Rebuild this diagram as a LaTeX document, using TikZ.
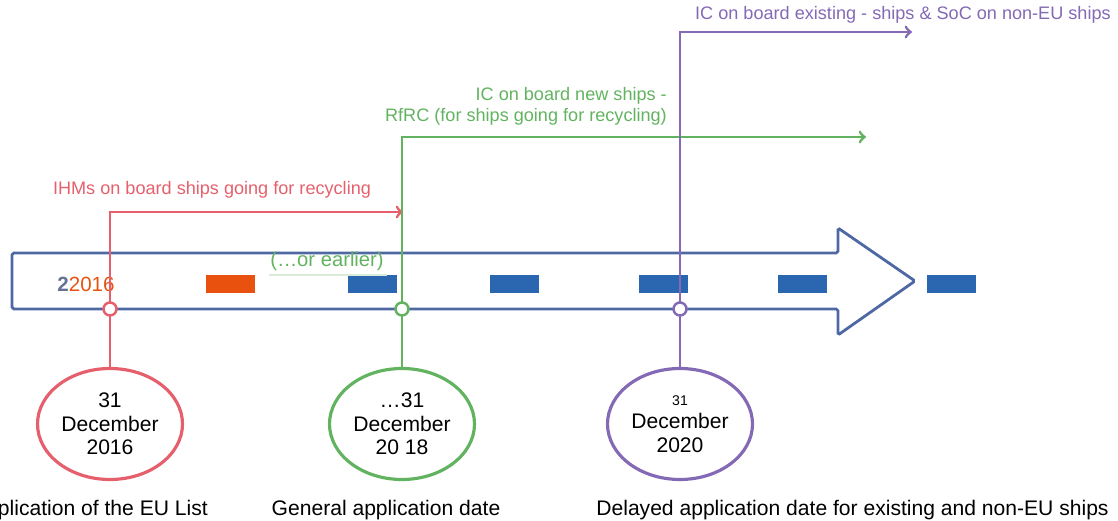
\documentclass[tikz,border=0pt]{standalone}
\usepackage{fontspec}
\setmainfont{Liberation Sans}
\usetikzlibrary{shapes.geometric}
\definecolor{redline}{HTML}{E5606C}
\definecolor{greenline}{HTML}{62B35F}
\definecolor{purpleline}{HTML}{8469B5}
\definecolor{axisline}{HTML}{4E68A3}
\definecolor{markblue}{HTML}{2B67B0}
\definecolor{markorange}{HTML}{E8520E}
\tikzset{
  datecircle/.style={ellipse, draw, line width=1.8pt, minimum width=2.9cm, minimum height=2.22cm,
    inner sep=0pt, align=center, font=\fontsize{12}{13.4}\selectfont, fill=white},
  joint/.style={circle, draw, line width=1.4pt, fill=white, minimum size=0.26cm, inner sep=0pt},
  yearmark/.style={fill=markblue, minimum width=0.98cm, minimum height=0.36cm, inner sep=0pt},
  steplabel/.style={font=\fontsize{10.3}{12}\selectfont},
  footlabel/.style={font=\fontsize{12}{14}\selectfont}
}
\begin{document}
\begin{tikzpicture}
  \useasboundingbox (0,0) rectangle (22.36,10.42);

  % Timeline arrow
  \draw[axisline, line width=1.6pt, rounded corners=1pt]
    (0.24,5.36) -- (16.76,5.36) -- (16.76,5.86) -- (18.30,4.80)
    -- (16.76,3.72) -- (16.76,4.24) -- (0.24,4.24) -- cycle;

  % Year marks
  \node[yearmark, fill=markorange] (m1) at (4.61,4.74) {};
  \foreach \x/\name in {7.45/m2, 10.29/m3, 13.27/m4, 16.05/m5, 19.03/m6}
    \node[yearmark] (\name) at (\x,4.74) {};
  \node[font=\fontsize{11.7}{13}\selectfont] (yr) at (1.72,4.74)
    {\textcolor{axisline!55!gray}{\textbf{2}}\textcolor{markorange}{2016}};
  \node[font=\fontsize{11.5}{13}\selectfont, text=greenline] (earlier) at (6.54,5.20) {(…or earlier)};
  \draw[greenline!25, line width=0.8pt] (earlier.south west) ++(0.1,0.03) -- ([shift={(-0.05,0.03)}]earlier.south east);

  % Dates
  \node[datecircle, draw=redline] (c16) at (2.20,1.94) {31\\December\\2016};
  \node[datecircle, draw=greenline] (c18) at (8.04,1.94) {…31\\December\\20 18};
  \node[datecircle, draw=purpleline] (c20) at (13.60,1.94)
    {{\fontsize{8}{13.4}\selectfont 31}\\December\\2020};

  % Steps
  \coordinate (t16) at (8.06,6.18);
  \coordinate (t18) at (17.32,7.68);
  \coordinate (t20) at (18.24,9.78);
  \draw[redline, line width=1.6pt, ->] (c16.north) |- (t16);
  \draw[greenline, line width=1.6pt, ->] (c18.north) |- (t18);
  \draw[purpleline, line width=1.6pt, ->] (c20.north) |- (t20);

  \node[joint, draw=redline] (j16) at (2.20,4.24) {};
  \node[joint, draw=greenline] (j18) at (8.04,4.24) {};
  \node[joint, draw=purpleline] (j20) at (13.60,4.24) {};

  \node[steplabel, text=redline] (l16) at (4.24,6.62) {IHMs on board ships going for recycling};
  \node[steplabel, text=greenline, align=right, anchor=east] (l18) at (13.46,8.30)
    {IC on board new ships -\\RfRC (for ships going for recycling)};
  \node[steplabel, text=purpleline, anchor=west] (l20) at (13.78,10.12)
    {IC on board existing - ships \& SoC on non-EU ships};

  % Captions
  \node[footlabel, anchor=east] (f16) at (4.28,0.22) {Application of the EU List};
  \node[footlabel] (f18) at (7.72,0.22) {General application date};
  \node[footlabel] (f20) at (17.05,0.22) {Delayed application date for existing and non-EU ships};
\end{tikzpicture}
\end{document}
